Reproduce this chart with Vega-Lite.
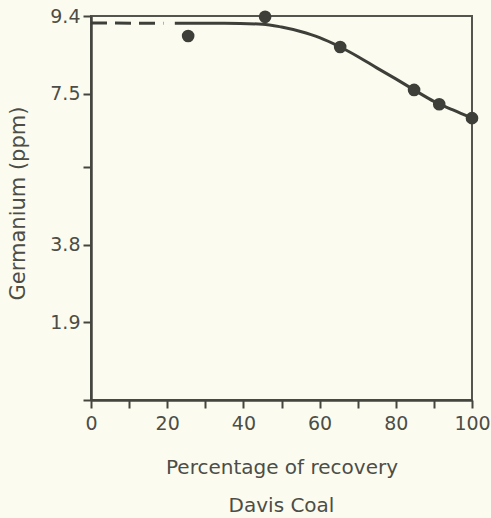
{
  "$schema": "https://vega.github.io/schema/vega-lite/v6.json",
  "autosize": "none",
  "width": 381,
  "height": 384,
  "padding": {"left": 91, "top": 16, "right": 19, "bottom": 118},
  "background": "#fbfcef",
  "config": {
    "view": {"stroke": "#55554f", "strokeWidth": 2},
    "font": "DejaVu Sans",
    "axis": {
      "domainColor": "#45453f",
      "domainWidth": 2.5,
      "tickColor": "#45453f",
      "tickWidth": 2,
      "grid": false,
      "labelFlush": false,
      "labelColor": "#4d4d47",
      "labelFont": "DejaVu Sans",
      "labelFontSize": 19,
      "titleColor": "#4d4d47",
      "titleFont": "DejaVu Sans",
      "titleFontSize": 20,
      "titleFontWeight": "normal"
    },
    "title": {"color": "#4d4d47", "font": "DejaVu Sans", "fontSize": 20, "fontWeight": "normal"}
  },
  "title": {"text": "Davis Coal", "orient": "bottom", "anchor": "middle", "offset": 19},
  "datasets": {
    "samples": [
      {"recovery": 25.5, "ge": 8.91},
      {"recovery": 45.7, "ge": 9.38},
      {"recovery": 65.4, "ge": 8.64},
      {"recovery": 84.8, "ge": 7.59},
      {"recovery": 91.4, "ge": 7.24},
      {"recovery": 100, "ge": 6.9}
    ],
    "fit": [
      {"recovery": 22, "ge": 9.22},
      {"recovery": 35, "ge": 9.22},
      {"recovery": 45, "ge": 9.2},
      {"recovery": 50, "ge": 9.13},
      {"recovery": 55, "ge": 9.02},
      {"recovery": 60, "ge": 8.87},
      {"recovery": 65, "ge": 8.66},
      {"recovery": 70, "ge": 8.41},
      {"recovery": 75, "ge": 8.13},
      {"recovery": 80, "ge": 7.86},
      {"recovery": 85, "ge": 7.58},
      {"recovery": 90, "ge": 7.31},
      {"recovery": 95, "ge": 7.1},
      {"recovery": 100, "ge": 6.9}
    ],
    "extrapolated": [
      {"recovery": 0, "ge": 9.23},
      {"recovery": 19, "ge": 9.22}
    ]
  },
  "encoding": {
    "x": {
      "field": "recovery",
      "type": "quantitative",
      "scale": {"domain": [0, 100], "nice": false},
      "axis": {
        "title": "Percentage of recovery",
        "values": [0, 10, 20, 30, 40, 50, 60, 70, 80, 90, 100],
        "labelExpr": "datum.value % 20 === 0 ? datum.label : ''",
        "tickSize": 8,
        "labelPadding": 6,
        "titlePadding": 24
      }
    },
    "y": {
      "field": "ge",
      "type": "quantitative",
      "scale": {"domain": [0, 9.4], "nice": false, "zero": true},
      "axis": {
        "title": "Germanium (ppm)",
        "titleFontSize": 21,
        "titleY": 187,
        "values": [0, 1.9, 3.8, 5.7, 7.5, 9.4],
        "labelExpr": "(datum.value === 0 || datum.value === 5.7) ? '' : format(datum.value, '.1f')",
        "tickSize": 8,
        "labelPadding": 3,
        "titlePadding": 21
      }
    }
  },
  "layer": [
    {
      "data": {"name": "extrapolated"},
      "mark": {"type": "line", "color": "#3f3f3a", "strokeWidth": 3, "strokeDash": [16, 8]}
    },
    {
      "data": {"name": "fit"},
      "mark": {"type": "line", "color": "#3f3f3a", "strokeWidth": 3, "interpolate": "monotone"}
    },
    {
      "data": {"name": "samples"},
      "mark": {"type": "point", "shape": "circle", "filled": true, "size": 160, "color": "#3f3f3a", "opacity": 1}
    }
  ]
}
